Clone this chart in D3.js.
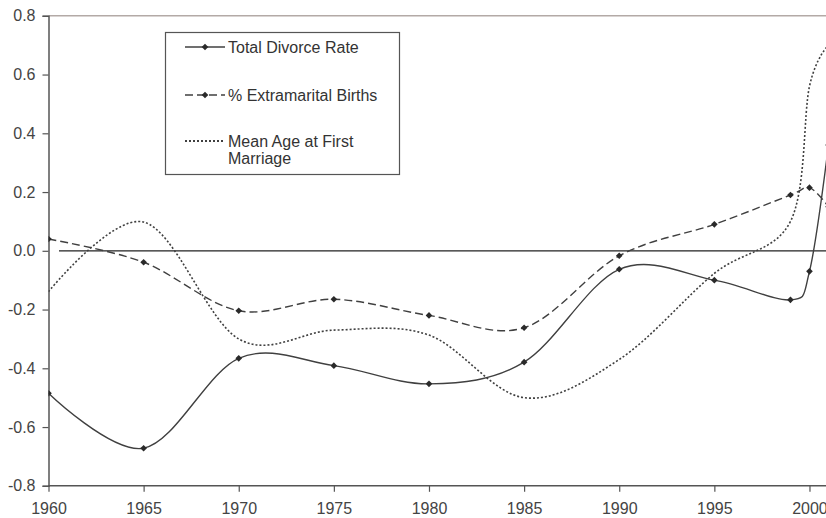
<!DOCTYPE html>
<html>
<head>
<meta charset="utf-8">
<script src="https://cdn.jsdelivr.net/npm/d3@7"></script>
<style>
	body { margin: 0; background: #fff; }
	svg { display: block; font-family: "Liberation Sans", Arial, sans-serif; }
</style>
</head>
<body>
<div id="chart"></div>
<script>
// years where values are recorded
const years = [1960, 1965, 1970, 1975, 1980, 1985, 1990, 1995, 1999, 2000, 2001];

const divorceRate = [-0.485, -0.672, -0.366, -0.391, -0.453, -0.379, -0.063, -0.1, -0.167, -0.07, 0.36];
const extramaritalBirths = [0.04, -0.039, -0.204, -0.165, -0.22, -0.262, -0.017, 0.09, 0.19, 0.215, 0.15];
const meanAgeMarriage = [-0.139, 0.098, -0.3, -0.27, -0.287, -0.5, -0.37, -0.077, 0.1, 0.56, 0.7];

const xTicks = [1960, 1965, 1970, 1975, 1980, 1985, 1990, 1995, 2000];
const yTicks = [-0.8, -0.6, -0.4, -0.2, 0, 0.2, 0.4, 0.6, 0.8];

const WIDTH = 826;
const HEIGHT = 518;
const FONT_SIZE = "16px";

const svg = d3.select("#chart")
	.append("svg")
	.attr("width", WIDTH)
	.attr("height", HEIGHT);

const x = d3.scaleLinear().domain([1960, 2001]).range([48.5, 828.5]);
const y = d3.scaleLinear().domain([-0.8, 0.8]).range([485.8, 15.8]);

const AXIS_COLOR = "#555";
const LINE_COLOR = "#404040";

// top border at 0.8
svg.append("line")
	.attr("x1", x(1960)).attr("x2", WIDTH)
	.attr("y1", y(0.8)).attr("y2", y(0.8))
	.attr("stroke", "#b3aaa6")
	.attr("stroke-width", 1.5);

// zero line
svg.append("line")
	.attr("x1", 59).attr("x2", WIDTH)
	.attr("y1", y(0)).attr("y2", y(0))
	.attr("stroke", "#222")
	.attr("stroke-width", 1.2);

// Y axis
const yAxis = svg.append("g")
	.attr("transform", `translate(${x(1960)},0)`)
	.call(d3.axisLeft(y).tickValues(yTicks).tickSize(6).tickPadding(7)
		.tickFormat(d3.format(".1f")));
yAxis.select(".domain").attr("stroke", AXIS_COLOR).attr("stroke-width", 1.5);
yAxis.selectAll(".tick line").attr("stroke", AXIS_COLOR).attr("stroke-width", 1.2);
yAxis.selectAll("text")
	.attr("fill", "#444")
	.style("font-size", FONT_SIZE)
	.text((d) => d3.format(".1f")(d).replace("−", "-"));

// X axis
const xAxis = svg.append("g")
	.attr("transform", `translate(0,${y(-0.8)})`)
	.call(d3.axisBottom(x).tickValues(xTicks).tickSize(6).tickPadding(11)
		.tickFormat(d3.format("d")));
xAxis.select(".domain")
	.attr("d", `M${x(1960)},0H${WIDTH}`)
	.attr("stroke", AXIS_COLOR).attr("stroke-width", 1.5);
xAxis.selectAll(".tick line").attr("stroke", AXIS_COLOR).attr("stroke-width", 1.2);
xAxis.selectAll("text").attr("fill", "#444").style("font-size", FONT_SIZE);

// clip to plot area
svg.append("defs").append("clipPath").attr("id", "plot-clip")
	.append("rect")
	.attr("x", x(1960)).attr("y", y(0.8))
	.attr("width", WIDTH - x(1960)).attr("height", y(-0.8) - y(0.8));

const plot = svg.append("g").attr("clip-path", "url(#plot-clip)");

const series = [
	{ name: "Total Divorce Rate", values: divorceRate, dash: null, markers: true },
	{ name: "% Extramarital Births", values: extramaritalBirths, dash: "8,4", markers: true },
	{ name: "Mean Age at First Marriage", values: meanAgeMarriage, dash: "2,2", markers: false },
];

const line = d3.line()
	.x((d) => x(d.year))
	.y((d) => y(d.v))
	.curve(d3.curveCardinal.tension(0));

// Excel-style diamond: a square turned 45 degrees
const marker = d3.symbol().type(d3.symbolSquare).size(22);

series.forEach((s) => {
	const pts = years.map((yr, i) => ({ year: yr, v: s.values[i] }));
	plot.append("path")
		.datum(pts)
		.attr("d", line)
		.attr("fill", "none")
		.attr("stroke", LINE_COLOR)
		.attr("stroke-width", s.dash === "2,2" ? 1.6 : 1.4)
		.attr("stroke-dasharray", s.dash);
	if (s.markers) {
		plot.selectAll(null)
			.data(pts)
			.enter()
			.append("path")
			.attr("d", marker)
			.attr("transform", (d) => `translate(${x(d.year)},${y(d.v)}) rotate(45)`)
			.attr("fill", "#2a2a2a");
	}
});

// Legend
const legend = svg.append("g");
legend.append("rect")
	.attr("x", 165.5).attr("y", 32.5)
	.attr("width", 234).attr("height", 142)
	.attr("fill", "#fff")
	.attr("stroke", "#555")
	.attr("stroke-width", 1.2);

const legendRows = [
	{ s: series[0], y: 47, base: 53, lines: ["Total Divorce Rate"] },
	{ s: series[1], y: 95, base: 101, lines: ["% Extramarital Births"] },
	{ s: series[2], y: 141, base: 147, lines: ["Mean Age at First", "Marriage"] },
];

legendRows.forEach((r) => {
	legend.append("line")
		.attr("x1", 185).attr("x2", 225)
		.attr("y1", r.y).attr("y2", r.y)
		.attr("stroke", LINE_COLOR)
		.attr("stroke-width", r.s.dash === "2,2" ? 1.8 : 1.4)
		.attr("stroke-dasharray", r.s.dash);
	if (r.s.markers) {
		legend.append("path")
			.attr("d", marker)
			.attr("transform", `translate(205,${r.y}) rotate(45)`)
			.attr("fill", "#2a2a2a");
	}
	const t = legend.append("text")
		.attr("x", 228)
		.attr("y", r.base)
		.attr("fill", "#333")
		.style("font-size", FONT_SIZE);
	r.lines.forEach((ln, i) => {
		t.append("tspan").attr("x", 228).attr("dy", i === 0 ? 0 : 16.5).text(ln);
	});
});
</script>
</body>
</html>
